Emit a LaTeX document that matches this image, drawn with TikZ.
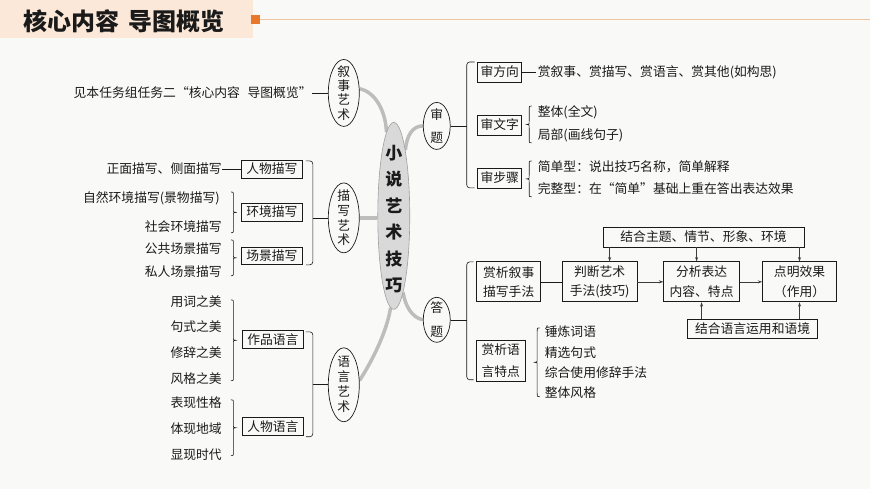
\documentclass[tikz,border=0pt]{standalone}
\usepackage{fontspec}
\setmainfont{Noto Sans CJK SC}
\usetikzlibrary{shapes.geometric,arrows.meta,calc,backgrounds}
\definecolor{bgc}{HTML}{F9F9F7}
\definecolor{hdr}{HTML}{FCE8D8}
\definecolor{org}{HTML}{E8782A}
\definecolor{orgl}{HTML}{F2C49C}
\definecolor{lnk}{HTML}{BDBDBD}
\definecolor{ink}{HTML}{1A1A1A}
\newcommand{\vst}[2]{\vbox{\baselineskip=#1\lineskiplimit=-50pt\relax #2}}
% curly brace: x, ytop, ybottom, direction (+1 right, -1 left)
\newcommand{\cbrace}[4]{%
  \draw[ln] (#1,#2) .. controls ({#1+#4*2.5},#2) .. ({#1+#4*2.5},{#2+3.5})
   -- ({#1+#4*2.5},{(#2+#3)/2-3.5}) .. controls ({#1+#4*2.5},{(#2+#3)/2}) .. ({#1+#4*5},{(#2+#3)/2})
   .. controls ({#1+#4*2.5},{(#2+#3)/2}) .. ({#1+#4*2.5},{(#2+#3)/2+3.5})
   -- ({#1+#4*2.5},{#3-3.5}) .. controls ({#1+#4*2.5},#3) .. (#1,#3);}
\begin{document}
\begin{tikzpicture}[x=1pt,y=-1pt,
  txt/.style={font=\fontsize{12.8}{15}\selectfont, inner sep=0pt, text=ink},
  box/.style={draw=ink, line width=0.7pt, inner sep=0pt, font=\fontsize{12.8}{19.5}\selectfont, align=center, text=ink},
  oval/.style={ellipse, draw=ink, line width=0.7pt, inner sep=0pt, fill=bgc},
  vtxt/.style={inner sep=0pt, font=\fontsize{12.8}{14.6}\selectfont, text=ink},
  glink/.style={draw=lnk, line width=3.5pt},
  ln/.style={draw=ink, line width=0.6pt},
  arr/.style={draw=ink!85, line width=0.6pt, -{Stealth[length=4.5pt,width=3pt]}},
  bkt/.style={ln, rounded corners=3pt}
]
\begin{scope}[on background layer]
\fill[bgc] (0,0) rectangle (870,489);
\fill[hdr] (0,0) rectangle (253,38);
\end{scope}
% header
\node[font=\fontsize{24}{24}\selectfont\bfseries, text=ink, inner sep=0pt] (title) at (124,21) {核心内容\hspace{0.4em}导图概览};
\node[fill=org, minimum size=9pt, inner sep=0pt] (sq) at (255.5,20) {};
\coordinate (hend) at (870,20);
\draw[orgl, line width=1pt] (sq.east) -- (hend);

% centre
\node[ellipse, fill=gray!30, draw=gray!75, line width=0.6pt, minimum width=32pt, minimum height=187pt, inner sep=0pt] (c) at (394,216) {};
\node[align=center, inner sep=0pt, font=\fontsize{17}{26.5}\selectfont\bfseries, text=ink] (ct) at (394,219) {小\\说\\艺\\术\\技\\巧};

% branch ellipses
\node[oval, minimum width=31pt, minimum height=67pt] (xs) at (344,93) {};
\node[vtxt] at (xs) {\vst{14.2pt}{\hbox{叙}\hbox{事}\hbox{艺}\hbox{术}}};
\node[oval, minimum width=31pt, minimum height=70pt] (ms) at (344,218) {};
\node[vtxt] at (ms) {\vst{14.6pt}{\hbox{描}\hbox{写}\hbox{艺}\hbox{术}}};
\node[oval, minimum width=31pt, minimum height=74pt] (ys) at (344,385) {};
\node[vtxt] at (ys) {\vst{15pt}{\hbox{语}\hbox{言}\hbox{艺}\hbox{术}}};
\node[oval, minimum width=27pt, minimum height=47pt] (st) at (437,126) {};
\node[vtxt] at (st) {\vst{23.5pt}{\hbox{审}\hbox{题}}};
\node[oval, minimum width=27pt, minimum height=45pt] (dt) at (437,320) {};
\node[vtxt] at (dt) {\vst{23.5pt}{\hbox{答}\hbox{题}}};

\begin{scope}[on background layer]
\draw[glink] (xs.15) .. controls (376,92) and (386,112) .. (c.95);
\draw[glink] (ms.east) -- (ms.east -| c.west);
\draw[glink] (ys.15) .. controls (378,352) and (388,326) .. (c.-92);
\draw[glink] (c.80) .. controls (407,135) and (413,126) .. (st.west);
\draw[glink] (c.-83) .. controls (405,305) and (412,318) .. (dt.west);
\end{scope}

% ---- 叙事艺术
\node[txt, anchor=east] (jian) at (312,93) {见本任务组任务二“核心内容\hspace{0.6em}导图概览”};
\draw[ln] (jian.east) -- (xs.west);

% ---- 描写艺术
\node[box, minimum width=61pt, minimum height=18pt] (rw) at (272,169) {人物描写};
\node[box, minimum width=61pt, minimum height=18pt] (hj) at (272,212) {环境描写};
\node[box, minimum width=61pt, minimum height=18pt] (cj) at (272,256) {场景描写};
\coordinate (mbt) at (306,161);
\coordinate (mbb) at (306,265);
\coordinate (mbx) at (313,0);
\draw[bkt] (mbt) -- (mbt -| mbx) -- (mbb -| mbx) -- (mbb);
\draw[ln] (ms.west -| mbx) -- (ms.west);

\node[txt, anchor=east] (zm) at (222,169) {正面描写、侧面描写};
\draw[ln] (zm.east) -- (rw.west);
\node[txt, anchor=east] (zr) at (220,198) {自然环境描写(景物描写)};
\node[txt, anchor=east] (sh) at (222,227) {社会环境描写};
\node[txt, anchor=east] (gg) at (222,249) {公共场景描写};
\node[txt, anchor=east] (sr) at (222,272) {私人场景描写};
\cbrace{231}{192}{233}{1}
\cbrace{231}{240}{276}{1}

% ---- 语言艺术
\node[box, minimum width=61pt, minimum height=18pt] (zp) at (273,340) {作品语言};
\node[box, minimum width=61pt, minimum height=18pt] (rwy) at (273,427) {人物语言};
\coordinate (ybt) at (306,332);
\coordinate (ybb) at (306,437);
\draw[bkt] (ybt) -- (ybt -| mbx) -- (ybb -| mbx) -- (ybb);
\draw[ln] (ys.west -| mbx) -- (ys.west);
\node[txt, anchor=east] (y1) at (222,302) {用词之美};
\node[txt, anchor=east] (y2) at (222,327) {句式之美};
\node[txt, anchor=east] (y3) at (222,353) {修辞之美};
\node[txt, anchor=east] (y4) at (222,379) {风格之美};
\node[txt, anchor=east] (y5) at (222,403) {表现性格};
\node[txt, anchor=east] (y6) at (222,429) {体现地域};
\node[txt, anchor=east] (y7) at (222,455) {显现时代};
\cbrace{231}{300}{381}{1}
\cbrace{231}{400}{456}{1}

% ---- 审题
\coordinate (sbt) at (475,62);
\coordinate (sbb) at (475,188);
\coordinate (sbx) at (467,0);
\draw[bkt] (sbt) -- (sbt -| sbx) -- (sbb -| sbx) -- (sbb);
\draw[ln] (st.east) -- (st.east -| sbx);
\node[box, minimum width=44pt, minimum height=20pt] (sfx) at (500,72) {审方向};
\node[box, minimum width=44pt, minimum height=20pt] (swz) at (500,125) {审文字};
\node[box, minimum width=44pt, minimum height=20pt] (sbz) at (500,178) {审步骤};
\node[txt, anchor=west] (fx1) at (538,72) {赏叙事、赏描写、赏语言、赏其他(如构思)};
\draw[ln] (sfx.east) -- ($(fx1.west)+(-2,0)$);
\node[txt, anchor=west] (zt) at (538,112) {整体(全文)};
\node[txt, anchor=west] (jb) at (538,135) {局部(画线句子)};
\node[txt, anchor=west] (jd) at (538,167) {简单型：说出技巧名称，简单解释};
\node[txt, anchor=west] (wz) at (538,189) {完整型：在“简单”基础上重在答出表达效果};
\cbrace{532}{106}{143}{-1}
\cbrace{532}{161}{197}{-1}

% ---- 答题
\coordinate (dbt) at (474,262);
\coordinate (dbb) at (474,380);
\draw[bkt] (dbt) -- (dbt -| sbx) -- (dbb -| sbx) -- (dbb);
\draw[ln] (dt.east) -- (dt.east -| sbx);
\node[box, minimum width=64pt, minimum height=40pt] (sx) at (509,282) {赏析叙事\\描写手法};
\node[box, minimum width=75pt, minimum height=40pt] (pd) at (600,282) {判断艺术\\手法(技巧)};
\node[box, minimum width=76pt, minimum height=40pt] (fx) at (702,282) {分析表达\\内容、特点};
\node[box, minimum width=74pt, minimum height=40pt] (dm) at (800,282) {点明效果\\（作用）};
\node[box, minimum width=201pt, minimum height=20pt] (top) at (704,237) {结合主题、情节、形象、环境};
\node[box, minimum width=130pt, minimum height=19pt] (bot) at (753,329) {结合语言运用和语境};
\draw[ln] (sx.east) -- (pd.west);
\draw[arr] (pd.east) -- (fx.west);
\draw[arr] (fx.east) -- (dm.west);
\coordinate (ax1) at (610,0);
\coordinate (ax2) at (697,0);
\coordinate (ax3) at (800,0);
\coordinate (bx1) at (702,0);
\draw[arr] (top.south -| ax1) -- (pd.north -| ax1);
\draw[arr] (top.south -| ax2) -- (fx.north -| ax2);
\draw[arr] (top.south -| ax3) -- (dm.north -| ax3);
\draw[arr] (bot.north -| bx1) -- (fx.south -| bx1);
\draw[arr] (bot.north -| ax3) -- (dm.south -| ax3);

\node[box, minimum width=49pt, minimum height=41pt, font=\fontsize{12.8}{22}\selectfont] (sy) at (501,361) {赏析语\\言特点};
\cbrace{540}{328}{397}{-1}
\node[txt, anchor=west] (d1) at (545,332) {锤炼词语};
\node[txt, anchor=west] (d2) at (545,353) {精选句式};
\node[txt, anchor=west] (d3) at (545,373) {综合使用修辞手法};
\node[txt, anchor=west] (d4) at (545,393) {整体风格};
\end{tikzpicture}
\end{document}
